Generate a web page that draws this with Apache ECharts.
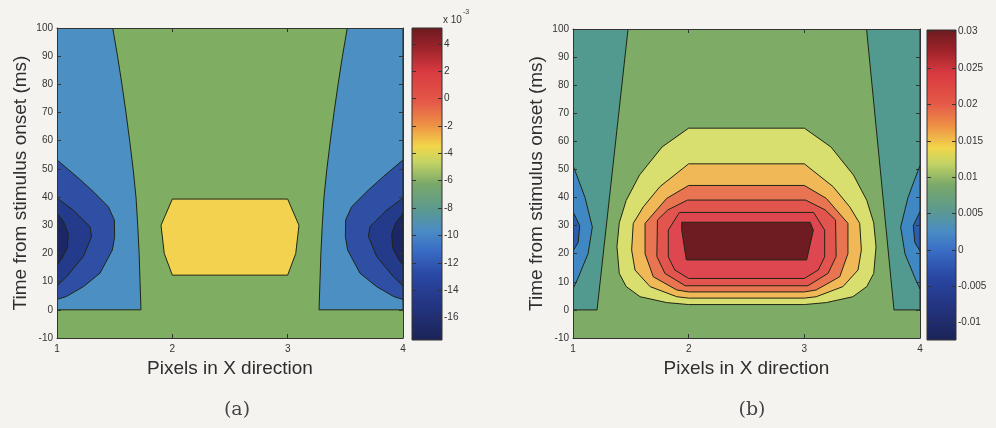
<!DOCTYPE html>
<html><head><meta charset="utf-8">
<script src="https://cdn.jsdelivr.net/npm/echarts@6/dist/echarts.min.js"></script>
<style>html,body{margin:0;padding:0;background:#f4f3ef}#c{width:996px;height:428px}</style>
</head><body><div id="c"></div>
<script>
// ---------- axis ticks ----------
const xTicks = [1, 2, 3, 4];
const yTicks = [-10, 0, 10, 20, 30, 40, 50, 60, 70, 80, 90, 100];
const cbATicks = [-16, -14, -12, -10, -8, -6, -4, -2, 0, 2, 4];
const cbALabels = ['-16', '-14', '-12', '-10', '-8', '-6', '-4', '-2', '0', '2', '4'];
const cbARange = [-17.63, 5.15];
const cbBTicks = [-0.01, -0.005, 0, 0.005, 0.01, 0.015, 0.02, 0.025, 0.03];
const cbBLabels = ['-0.01', '-0.005', '0', '0.005', '0.01', '0.015', '0.02', '0.025', '0.03'];
const cbBRange = [-0.01238, 0.03023];

// ---------- panel (a) contour regions: [pixel in X, time ms] ----------
const aField = [[1, -10], [4, -10], [4, 100], [1, 100]];
const aLeftLevel1 = [[1, 100], [1.483, 100], [1.525, 90], [1.563, 80], [1.598, 70], [1.63, 60], [1.66, 50], [1.685, 40], [1.70, 30], [1.712, 20], [1.72, 10], [1.728, 0], [1, 0]];
const aRightLevel1 = [[4, 100], [3.517, 100], [3.475, 90], [3.437, 80], [3.402, 70], [3.37, 60], [3.34, 50], [3.315, 40], [3.30, 30], [3.288, 20], [3.28, 10], [3.272, 0], [4, 0]];
const aLeftLevel2 = [[1, 53.2], [1.17, 47.3], [1.30, 42.5], [1.445, 36.6], [1.497, 31.9], [1.50, 26], [1.48, 21.2], [1.373, 13.0], [1.228, 8.2], [1.08, 4.7], [1, 3.7]];
const aRightLevel2 = [[4, 53.2], [3.83, 47.3], [3.70, 42.5], [3.555, 36.6], [3.503, 31.9], [3.50, 26], [3.52, 21.2], [3.627, 13.0], [3.772, 8.2], [3.92, 4.7], [4, 3.7]];
const aLeftLevel3 = [[1, 39.6], [1.141, 35.4], [1.286, 29.5], [1.30, 26], [1.228, 18.9], [1.084, 11.8], [1, 8.4]];
const aRightLevel3 = [[4, 39.6], [3.859, 35.4], [3.714, 29.5], [3.70, 26], [3.772, 18.9], [3.916, 11.8], [4, 8.4]];
const aLeftLevel4 = [[1, 34.3], [1.06, 31], [1.098, 27], [1.09, 22], [1.04, 18], [1, 15.9]];
const aRightLevel4 = [[4, 34.3], [3.94, 31], [3.902, 27], [3.91, 22], [3.96, 18], [4, 15.9]];
const aCentre = [[2.0, 39.3], [3.0, 39.3], [3.098, 30], [3.07, 20], [3.0, 12.3], [2.0, 12.3], [1.93, 20], [1.902, 30]];

// ---------- panel (b) contour regions ----------
const bField = [[1, -10], [4, -10], [4, 100], [1, 100]];
const bLeftLevel1 = [[1, 100], [1.476, 100], [1.208, 0], [1, 0]];
const bRightLevel1 = [[4, 100], [3.538, 100], [3.775, 0], [4, 0]];
const bLeftLevel2 = [[1, 51.4], [1.05, 46], [1.104, 40], [1.167, 29.5], [1.13, 20], [1.04, 11], [1, 7.5]];
const bRightLevel2 = [[4, 51.4], [3.95, 46], [3.896, 40], [3.833, 29.5], [3.87, 20], [3.96, 11], [4, 7.5]];
const bLeftLevel3 = [[1, 35], [1.058, 30], [1.045, 24], [1, 21]];
const bRightLevel3 = [[4, 35], [3.942, 30], [3.955, 24], [4, 21]];
const bRing1 = [[2.0, 64.7], [3.0, 64.7], [3.23, 58], [3.425, 48], [3.54, 39], [3.60, 31], [3.62, 22.5], [3.60, 13], [3.54, 8.3], [3.42, 4.7], [3.19, 2.6], [3.0, 1.9], [2.0, 1.9], [1.81, 2.6], [1.58, 4.7], [1.46, 8.3], [1.40, 13], [1.38, 22.5], [1.40, 31], [1.46, 39], [1.575, 48], [1.77, 58]];
const bRing2 = [[2.0, 52], [3.0, 52], [3.248, 43.9], [3.392, 36.7], [3.479, 30.8], [3.493, 21.3], [3.464, 14.2], [3.334, 8.3], [3.103, 4.7], [3.0, 4.2], [2.0, 4.2], [1.897, 4.7], [1.666, 8.3], [1.536, 14.2], [1.507, 21.3], [1.521, 30.8], [1.608, 36.7], [1.752, 43.9]];
const bRing3 = [[2.0, 44.3], [3.0, 44.3], [3.19, 39.7], [3.377, 30.8], [3.377, 20], [3.306, 11.8], [3.103, 7.1], [3.0, 6.4], [2.0, 6.4], [1.897, 7.1], [1.694, 11.8], [1.623, 20], [1.623, 30.8], [1.81, 39.7]];
const bRing4 = [[1.99, 39.1], [3.01, 39.1], [3.18, 35.6], [3.27, 32], [3.275, 19], [3.205, 13], [3.03, 8.6], [1.97, 8.6], [1.795, 13], [1.725, 19], [1.73, 32], [1.82, 35.6]];
const bRing5 = [[1.92, 34.7], [3.08, 34.7], [3.176, 28.4], [3.176, 18.9], [3.12, 14.2], [3.0, 11.2], [2.0, 11.2], [1.88, 14.2], [1.824, 18.9], [1.824, 28.4]];
const bRing6 = [[1.94, 31.2], [3.05, 31.2], [3.078, 28.4], [3.02, 17.8], [1.98, 17.8], [1.94, 28.4]];

// ---------- styles ----------
const C = {
  aField: '#7fad62', aL1: '#4b8fc3', aL2: '#2f4fa5', aL3: '#243a8a', aL4: '#1b2766', aCentre: '#f2d24e',
  bField: '#7eab66', bL1: '#529990', bL2: '#3f88c4', bL3: '#2e5cad',
  r1: '#d8df6e', r2: '#f0b857', r3: '#e97452', r4: '#e2554f', r5: '#de4650', r6: '#6e1c21'
};
const LINE = '#1f2614';
const TXT = '#333';
const FONT = '"Liberation Sans", Arial, sans-serif';

const regionsA = [
  { pts: aField, fill: C.aField, line: false },
  { pts: aLeftLevel1, fill: C.aL1, line: true },
  { pts: aRightLevel1, fill: C.aL1, line: true },
  { pts: aLeftLevel2, fill: C.aL2, line: true },
  { pts: aRightLevel2, fill: C.aL2, line: true },
  { pts: aLeftLevel3, fill: C.aL3, line: true },
  { pts: aRightLevel3, fill: C.aL3, line: true },
  { pts: aLeftLevel4, fill: C.aL4, line: true },
  { pts: aRightLevel4, fill: C.aL4, line: true },
  { pts: aCentre, fill: C.aCentre, line: true }
];
const regionsB = [
  { pts: bField, fill: C.bField, line: false },
  { pts: bLeftLevel1, fill: C.bL1, line: true },
  { pts: bRightLevel1, fill: C.bL1, line: true },
  { pts: bLeftLevel2, fill: C.bL2, line: true },
  { pts: bRightLevel2, fill: C.bL2, line: true },
  { pts: bLeftLevel3, fill: C.bL3, line: true },
  { pts: bRightLevel3, fill: C.bL3, line: true },
  { pts: bRing1, fill: C.r1, line: true },
  { pts: bRing2, fill: C.r2, line: true },
  { pts: bRing3, fill: C.r3, line: true },
  { pts: bRing4, fill: C.r4, line: true },
  { pts: bRing5, fill: C.r5, line: true },
  { pts: bRing6, fill: C.r6, line: true }
];

function makeRender(regions) {
  return function (params, api) {
    const r = regions[params.dataIndex];
    return {
      type: 'polygon',
      shape: { points: r.pts.map(p => api.coord(p)) },
      style: { fill: r.fill, stroke: r.line ? LINE : null, lineWidth: 1, opacity: 1 }
    };
  };
}

const jetStops = [
  { offset: 0, color: '#6b1a1f' }, { offset: 0.07, color: '#a0242b' }, { offset: 0.14, color: '#d83a40' },
  { offset: 0.24, color: '#e55a48' }, { offset: 0.31, color: '#ee9046' }, { offset: 0.38, color: '#f2d64a' },
  { offset: 0.43, color: '#c4d464' }, { offset: 0.5, color: '#7aa86a' }, { offset: 0.58, color: '#5c9a8e' },
  { offset: 0.65, color: '#4a8cc4' }, { offset: 0.71, color: '#3a6ec6' }, { offset: 0.79, color: '#2a48a4' },
  { offset: 0.89, color: '#233480' }, { offset: 1, color: '#1c2456' }
];
function cbRender(range) {
  return function (params, api) {
    const p1 = api.coord([0, range[1]]);
    const p2 = api.coord([1, range[0]]);
    return {
      type: 'rect',
      shape: { x: p1[0], y: p1[1], width: p2[0] - p1[0], height: p2[1] - p1[1] },
      style: { fill: new echarts.graphic.LinearGradient(0, 0, 0, 1, jetStops), stroke: '#333', lineWidth: 1 }
    };
  };
}

const tickStyle = { show: true, inside: true, length: 4, lineStyle: { color: '#333', width: 1 } };
const lineStyle = { show: true, lineStyle: { color: '#333', width: 1 } };
const labelStyle = { color: TXT, fontSize: 10, fontFamily: FONT };
const nameStyle = { color: '#2e2e2e', fontSize: 19, fontFamily: FONT };

function plotX(grid, pos, withLabel) {
  return {
    type: 'value', gridIndex: grid, position: pos, min: xTicks[0], max: xTicks[xTicks.length - 1], interval: 1, z: 10,
    axisLine: Object.assign({ onZero: false }, lineStyle), axisTick: tickStyle, splitLine: { show: false },
    axisLabel: withLabel ? Object.assign({ margin: 6, formatter: v => String(v) }, labelStyle) : { show: false },
    name: withLabel ? 'Pixels in X direction' : '', nameLocation: 'middle', nameGap: 18, nameTextStyle: nameStyle
  };
}
function plotY(grid, pos, withLabel) {
  return {
    type: 'value', gridIndex: grid, position: pos, min: yTicks[0], max: yTicks[yTicks.length - 1], interval: 10, z: 10,
    axisLine: Object.assign({ onZero: false }, lineStyle), axisTick: tickStyle, splitLine: { show: false },
    axisLabel: withLabel ? Object.assign({ margin: 4 }, labelStyle) : { show: false },
    name: withLabel ? 'Time from stimulus onset (ms)' : '', nameLocation: 'middle', nameGap: 27, nameTextStyle: nameStyle
  };
}
function cbY(grid, pos, range, ticks, labels, withLabel) {
  return {
    type: 'value', gridIndex: grid, position: pos, min: range[0], max: range[1], z: 10,
    axisLine: { show: false }, splitLine: { show: false },
    axisTick: Object.assign({ customValues: ticks }, tickStyle),
    axisLabel: withLabel ? Object.assign({
      customValues: ticks, margin: 2, showMinLabel: true, showMaxLabel: true,
      formatter: v => { const i = ticks.findIndex(t => Math.abs(t - v) < 1e-9); return i >= 0 ? labels[i] : ''; }
    }, labelStyle) : { show: false }
  };
}
const hiddenX = g => ({ type: 'value', gridIndex: g, min: 0, max: 1, show: false });

const option = {
  backgroundColor: '#f4f3ef',
  animation: false,
  grid: [
    { left: 57, top: 28, width: 346, height: 310 },
    { left: 412, top: 28, width: 30, height: 312 },
    { left: 573, top: 29, width: 347, height: 309 },
    { left: 927, top: 30, width: 29, height: 310 }
  ],
  xAxis: [plotX(0, 'bottom', true), plotX(0, 'top', false), hiddenX(1), plotX(2, 'bottom', true), plotX(2, 'top', false), hiddenX(3)],
  yAxis: [
    plotY(0, 'left', true), plotY(0, 'right', false),
    cbY(1, 'left', cbARange, cbATicks, cbALabels, false), cbY(1, 'right', cbARange, cbATicks, cbALabels, true),
    plotY(2, 'left', true), plotY(2, 'right', false),
    cbY(3, 'left', cbBRange, cbBTicks, cbBLabels, false), cbY(3, 'right', cbBRange, cbBTicks, cbBLabels, true)
  ],
  series: [
    { type: 'custom', xAxisIndex: 0, yAxisIndex: 0, clip: true, renderItem: makeRender(regionsA), data: regionsA.map(r => r.pts[0]) },
    { type: 'custom', xAxisIndex: 2, yAxisIndex: 2, renderItem: cbRender(cbARange), data: [[0, cbARange[0]]] },
    { type: 'custom', xAxisIndex: 3, yAxisIndex: 4, clip: true, renderItem: makeRender(regionsB), data: regionsB.map(r => r.pts[0]) },
    { type: 'custom', xAxisIndex: 5, yAxisIndex: 6, renderItem: cbRender(cbBRange), data: [[0, cbBRange[0]]] }
  ],
  graphic: [
    { type: 'text', x: 443, y: 15, style: { text: 'x 10', fontSize: 10, fontFamily: FONT, fill: TXT } },
    { type: 'text', x: 463, y: 9, style: { text: '-3', fontSize: 7, fontFamily: FONT, fill: TXT } },
    { type: 'text', x: 237, y: 410, style: { text: '(a)', fontSize: 19, fontFamily: '"DejaVu Serif", serif', fill: '#444', align: 'center', verticalAlign: 'middle' } },
    { type: 'text', x: 752, y: 410, style: { text: '(b)', fontSize: 19, fontFamily: '"DejaVu Serif", serif', fill: '#444', align: 'center', verticalAlign: 'middle' } }
  ]
};
const chart = echarts.init(document.getElementById('c'), null, { renderer: 'canvas' });
chart.setOption(option);
</script></body></html>
